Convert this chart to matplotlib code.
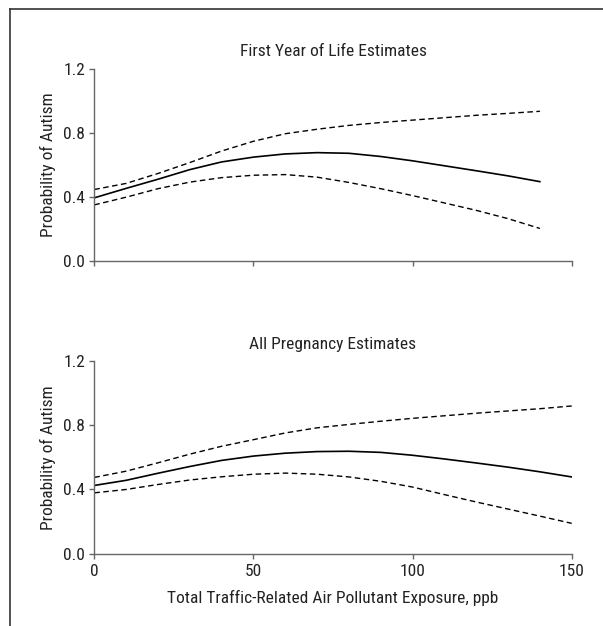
import matplotlib
matplotlib.use('Agg')
import matplotlib.pyplot as plt
from matplotlib.lines import Line2D

plt.rcParams['font.family'] = ['Roboto Condensed', 'Archivo Narrow', 'DejaVu Sans Condensed', 'DejaVu Sans']

# First year of life estimates
x_first = [0, 10, 20, 30, 40, 50, 60, 70, 80, 90, 100, 110, 120, 130, 140]
est_first = [0.396, 0.455, 0.512, 0.572, 0.620, 0.650, 0.670, 0.678, 0.674, 0.654,
             0.627, 0.596, 0.565, 0.533, 0.497]
upper_first = [0.448, 0.486, 0.548, 0.616, 0.688, 0.749, 0.796, 0.824, 0.848, 0.866,
               0.881, 0.896, 0.911, 0.923, 0.936]
lower_first = [0.352, 0.400, 0.453, 0.494, 0.522, 0.537, 0.541, 0.525, 0.492, 0.453,
               0.410, 0.364, 0.318, 0.266, 0.205]

# All pregnancy estimates
x_preg = [0, 10, 20, 30, 40, 50, 60, 70, 80, 90, 100, 110, 120, 130, 140, 150]
est_preg = [0.425, 0.457, 0.501, 0.543, 0.581, 0.608, 0.626, 0.636, 0.638, 0.631,
            0.613, 0.590, 0.565, 0.539, 0.510, 0.478]
upper_preg = [0.475, 0.514, 0.566, 0.620, 0.669, 0.710, 0.752, 0.784, 0.805, 0.825,
              0.843, 0.859, 0.875, 0.889, 0.903, 0.920]
lower_preg = [0.379, 0.400, 0.431, 0.459, 0.479, 0.495, 0.502, 0.495, 0.478, 0.451,
              0.415, 0.368, 0.322, 0.278, 0.234, 0.189]

x_ticks = [0, 50, 100, 150]
y_ticks = [0.0, 0.4, 0.8, 1.2]

W, H = 603, 626
fig = plt.figure(figsize=(W / 100, H / 100), dpi=100)

# frame (top and left edges only, as in the source)
fig.add_artist(Line2D([10 / W, 1], [1 - 9 / H, 1 - 9 / H], color='#333333', lw=1.2))
fig.add_artist(Line2D([10 / W, 10 / W], [0, 1 - 9 / H], color='#333333', lw=1.2))

ax1 = fig.add_axes([0.1564, 0.5826, 0.7917, 0.3072])
ax2 = fig.add_axes([0.1564, 0.1155, 0.7917, 0.3078])

panels = [
    (ax1, 'First Year of Life Estimates', x_first, est_first, upper_first, lower_first),
    (ax2, 'All Pregnancy Estimates', x_preg, est_preg, upper_preg, lower_preg),
]

for ax, title, xs, est, up, lo in panels:
    ax.plot(xs, est, color='black', lw=1.2)
    ax.plot(xs, up, color='black', lw=1.0, dashes=(4, 2.5))
    ax.plot(xs, lo, color='black', lw=1.0, dashes=(4, 2.5))
    ax.set_xlim(0, 150)
    ax.set_ylim(0, 1.2)
    ax.set_xticks(x_ticks)
    ax.set_yticks(y_ticks)
    ax.set_yticklabels([f'{v:.1f}' for v in y_ticks])
    for side in ['top', 'right']:
        ax.spines[side].set_visible(False)
    for side in ['left', 'bottom']:
        ax.spines[side].set_color('#666666')
        ax.spines[side].set_linewidth(1.0)
    ax.tick_params(direction='out', length=3.5, width=1.0, color='#666666',
                   labelsize=12.5, labelcolor='#222222')
    ax.tick_params(axis='y', pad=3)
    ax.tick_params(axis='x', pad=4)
    ax.set_ylabel('Probability of Autism', fontsize=12.5, color='#222222', labelpad=5)
    ax.set_title(title, fontsize=12.5, color='#222222', pad=9)

ax1.set_xticklabels([])
ax2.set_xlabel('Total Traffic-Related Air Pollutant Exposure, ppb', fontsize=12.5,
               color='#222222', labelpad=8)

fig.savefig('out.png', dpi=100)
